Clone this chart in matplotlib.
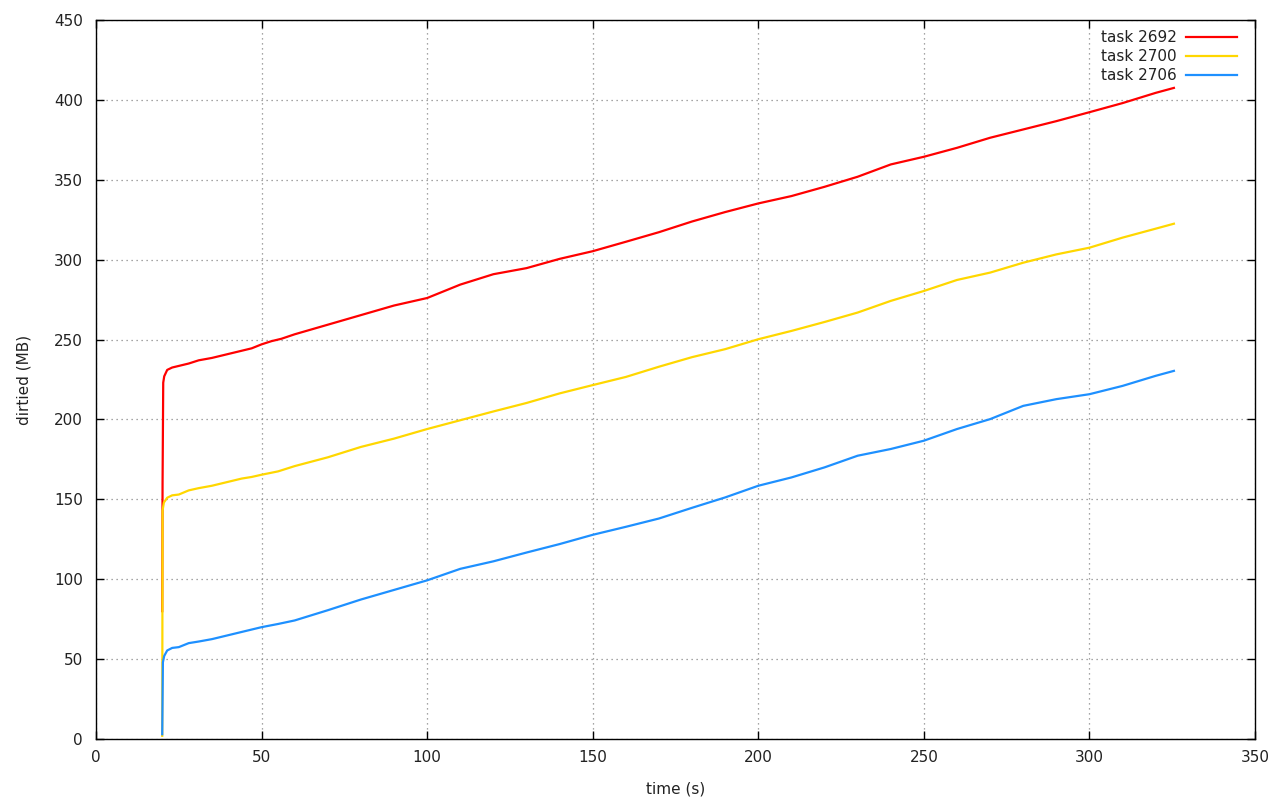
import matplotlib
matplotlib.use("Agg")
import matplotlib.pyplot as plt

# sample times (s) and dirtied MB for each task
t_2692 = [20.0, 20.1, 20.3, 20.6, 21.5, 23, 25, 28, 31, 35, 38, 41, 44, 47, 50, 53, 56, 60,
          70, 80, 90, 100, 110, 120, 130, 140, 150, 160, 170, 180, 190, 200, 210, 220, 230,
          240, 250, 260, 270, 280, 290, 300, 310, 320, 325.5]
mb_2692 = [80, 160, 223, 227, 231, 232.5, 233.5, 235, 237, 238.5, 240, 241.5, 243, 244.5, 247,
           249, 250.5, 253.3, 259.3, 265.3, 271.3, 276, 284.4, 290.9, 294.7, 300.5, 305.3, 311.2,
           317.2, 323.9, 329.8, 335.2, 339.8, 345.6, 351.9, 359.6, 364.4, 370, 376.3, 381.5,
           386.7, 392.3, 398, 404.4, 407.5]

t_2700 = [20.0, 20.1, 20.5, 21.5, 23, 25, 28, 31, 35, 38, 41, 44, 47, 50, 55, 60,
          70, 80, 90, 100, 110, 120, 130, 140, 150, 160, 170, 180, 190, 200, 210, 220, 230,
          240, 250, 260, 270, 280, 290, 300, 310, 320, 325.5]
mb_2700 = [2, 143, 148, 151, 152.5, 153, 155.6, 157, 158.5, 160, 161.5, 163, 164, 165.4, 167.5,
           170.8, 176.3, 182.8, 188, 194, 199.5, 205, 210.3, 216.3, 221.5, 226.6, 233, 239,
           244, 250.2, 255.4, 261, 266.9, 274.2, 280.4, 287.3, 291.9, 298.1, 303.3, 307.5,
           313.8, 319.4, 322.5]

t_2706 = [20.0, 20.2, 20.6, 21.5, 23, 25, 28, 31, 35, 38, 41, 44, 47, 50, 55, 60,
          70, 80, 90, 100, 110, 120, 130, 140, 150, 160, 170, 180, 190, 200, 210, 220, 230,
          240, 250, 260, 270, 280, 290, 300, 310, 320, 325.5]
mb_2706 = [3, 48, 52, 55.4, 57, 57.5, 60, 61, 62.5, 64, 65.5, 67, 68.5, 70, 72,
           74.2, 80.6, 87.3, 93.3, 99.3, 106.5, 111.2, 116.7, 122, 127.8, 132.8, 138, 144.7,
           151.2, 158.5, 163.7, 170, 177.3, 181.5, 186.7, 194, 200.2, 208.5, 212.7, 215.8,
           221, 227.3, 230.4]

plt.rcParams["font.family"] = "DejaVu Sans"
plt.rcParams["font.size"] = 11

fig = plt.figure(figsize=(12.8, 8), dpi=100)
ax = fig.add_axes([0.075, 0.07625, 0.9055, 0.89875])

ax.plot(t_2692, mb_2692, color="#ff0000", lw=1.6, label="task 2692")
ax.plot(t_2700, mb_2700, color="#ffd700", lw=1.6, label="task 2700")
ax.plot(t_2706, mb_2706, color="#1e90ff", lw=1.6, label="task 2706")

ax.set_xlim(0, 350)
ax.set_ylim(0, 450)
ax.set_xticks(range(0, 351, 50))
ax.set_yticks(range(0, 451, 50))
ax.tick_params(direction="in", top=True, right=True, length=6, width=1,
               labelcolor="#222222")
ax.tick_params(axis="x", pad=8)
ax.tick_params(axis="y", pad=9.5)
ax.grid(True, color="#888888", linestyle=(0, (1, 3)), linewidth=0.9)
ax.set_axisbelow(True)
for s in ax.spines.values():
    s.set_linewidth(1.0)

ax.set_xlabel("time (s)", labelpad=12, color="#222222")
ax.set_ylabel("dirtied (MB)", labelpad=16, color="#222222")

leg = ax.legend(loc="upper right", bbox_to_anchor=(1.0, 1.011), frameon=False,
                markerfirst=False, handlelength=3.3, borderaxespad=0.8,
                labelspacing=0.25, handletextpad=0.6)
for txt in leg.get_texts():
    txt.set_color("#222222")

fig.savefig("out.png", dpi=100)
